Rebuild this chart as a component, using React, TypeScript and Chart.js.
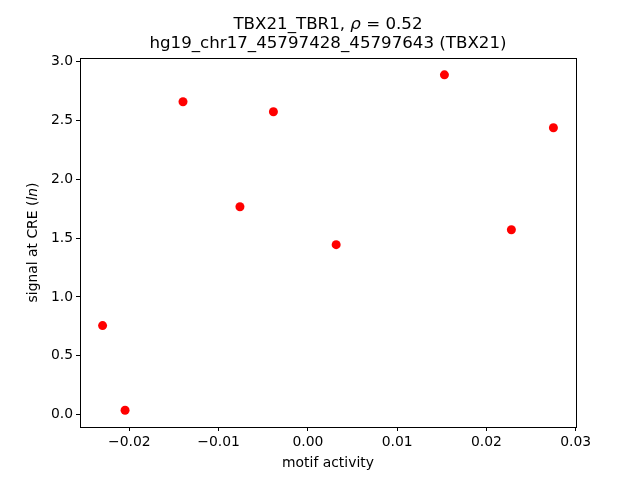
import React, { useEffect, useRef } from "react";
import { Chart, registerables } from "chart.js";

Chart.register(...registerables);

const motifActivity = [-0.0230, -0.02048, -0.01399, -0.00761, -0.00386, 0.00317, 0.01530, 0.02280, 0.02751];
const signalAtCRE = [0.756, 0.037, 2.658, 1.766, 2.573, 1.444, 2.887, 1.571, 2.437];
const xTicks = [-0.02, -0.01, 0, 0.01, 0.02, 0.03];
const yTicks = [0, 0.5, 1, 1.5, 2, 2.5, 3];
const titleLine1 = ["TBX21_TBR1, ", "ρ", " = 0.52"];
const titleLine2 = "hg19_chr17_45797428_45797643 (TBX21)";
const xLabel = "motif activity";
const yLabelParts = ["signal at CRE (", "ln", ")"];

const FONT = "'DejaVu Sans', sans-serif";

const decorPlugin = {
  id: "decor",
  afterDraw(chart: any) {
    const ctx: CanvasRenderingContext2D = chart.ctx;
    const a = chart.chartArea;
    ctx.save();
    ctx.strokeStyle = "#000";
    ctx.lineWidth = 1;
    ctx.strokeRect(Math.round(a.left) + 0.5, Math.round(a.top) + 0.5, Math.round(a.right - a.left) - 1 + 1, Math.round(a.bottom - a.top));
    ctx.fillStyle = "#000";
    const cx = (a.left + a.right) / 2;
    // title
    const ts = 16.67;
    const normal = `${ts}px ${FONT}`;
    const ital = `italic ${ts}px ${FONT}`;
    const fonts1 = [normal, ital, normal];
    let w = 0;
    const widths = titleLine1.map((t, i) => {
      ctx.font = fonts1[i];
      const m = ctx.measureText(t).width;
      w += m;
      return m;
    });
    let x = cx - w / 2;
    ctx.textBaseline = "alphabetic";
    ctx.textAlign = "left";
    titleLine1.forEach((t, i) => {
      ctx.font = fonts1[i];
      ctx.fillText(t, x, 29);
      x += widths[i];
    });
    ctx.font = normal;
    ctx.textAlign = "center";
    ctx.fillText(titleLine2, cx, 48);
    // x label
    const ls = 13.9;
    ctx.font = `${ls}px ${FONT}`;
    ctx.fillText(xLabel, cx, 467);
    // y label
    const cy = (a.top + a.bottom) / 2;
    const fontsY = [`${ls}px ${FONT}`, `italic ${ls}px ${FONT}`, `${ls}px ${FONT}`];
    let wy = 0;
    const wys = yLabelParts.map((t, i) => {
      ctx.font = fontsY[i];
      const m = ctx.measureText(t).width;
      wy += m;
      return m;
    });
    ctx.translate(37, cy);
    ctx.rotate(-Math.PI / 2);
    ctx.textAlign = "left";
    let px = -wy / 2;
    yLabelParts.forEach((t, i) => {
      ctx.font = fontsY[i];
      ctx.fillText(t, px, 0);
      px += wys[i];
    });
    ctx.restore();
  },
};

export default function App() {
  const ref = useRef<HTMLCanvasElement | null>(null);
  useEffect(() => {
    if (!ref.current) return;
    const data = motifActivity.map((v, i) => ({ x: v, y: signalAtCRE[i] }));
    const chart = new Chart(ref.current, {
      type: "scatter",
      data: {
        datasets: [
          {
            data,
            backgroundColor: "#ff0000",
            borderColor: "#ff0000",
            borderWidth: 0,
            pointRadius: 4.5,
            pointHoverRadius: 4.5,
          },
        ],
      },
      options: {
        responsive: false,
        animation: false,
        events: [],
        layout: { padding: { top: 58, right: 64, left: 0, bottom: 0 } },
        plugins: { legend: { display: false }, tooltip: { enabled: false }, title: { display: false } },
        scales: {
          x: {
            type: "linear",
            min: -0.02553,
            max: 0.03004,
            afterFit: (s: any) => {
              s.height = 53;
            },
            afterBuildTicks: (s: any) => {
              s.ticks = xTicks.map((v) => ({ value: v }));
            },
            grid: { display: true, drawOnChartArea: false, drawTicks: true, tickLength: 4, color: "#000", lineWidth: 1 },
            border: { display: true, color: "#000", width: 1 },
            ticks: {
              color: "#000",
              padding: 3,
              maxRotation: 0,
              autoSkip: false,
              font: { family: FONT, size: 13.9 },
              callback: (v: any) => Number(v).toFixed(2).replace("-", "\u2212"),
            },
          },
          y: {
            type: "linear",
            min: -0.1055,
            max: 3.03,
            afterFit: (s: any) => {
              s.width = 80;
            },
            afterBuildTicks: (s: any) => {
              s.ticks = yTicks.map((v) => ({ value: v }));
            },
            grid: { display: true, drawOnChartArea: false, drawTicks: true, tickLength: 4, color: "#000", lineWidth: 1 },
            border: { display: true, color: "#000", width: 1 },
            ticks: {
              color: "#000",
              padding: 3,
              autoSkip: false,
              font: { family: FONT, size: 13.9 },
              callback: (v: any) => Number(v).toFixed(1).replace("-", "\u2212"),
            },
          },
        },
      },
      plugins: [decorPlugin],
    } as any);
    return () => chart.destroy();
  }, []);
  return (
    <div style={{ position: "absolute", left: 0, top: 0, width: 640, height: 480, background: "#fff" }}>
      <canvas ref={ref} width={640} height={480} style={{ display: "block" }} />
    </div>
  );
}
